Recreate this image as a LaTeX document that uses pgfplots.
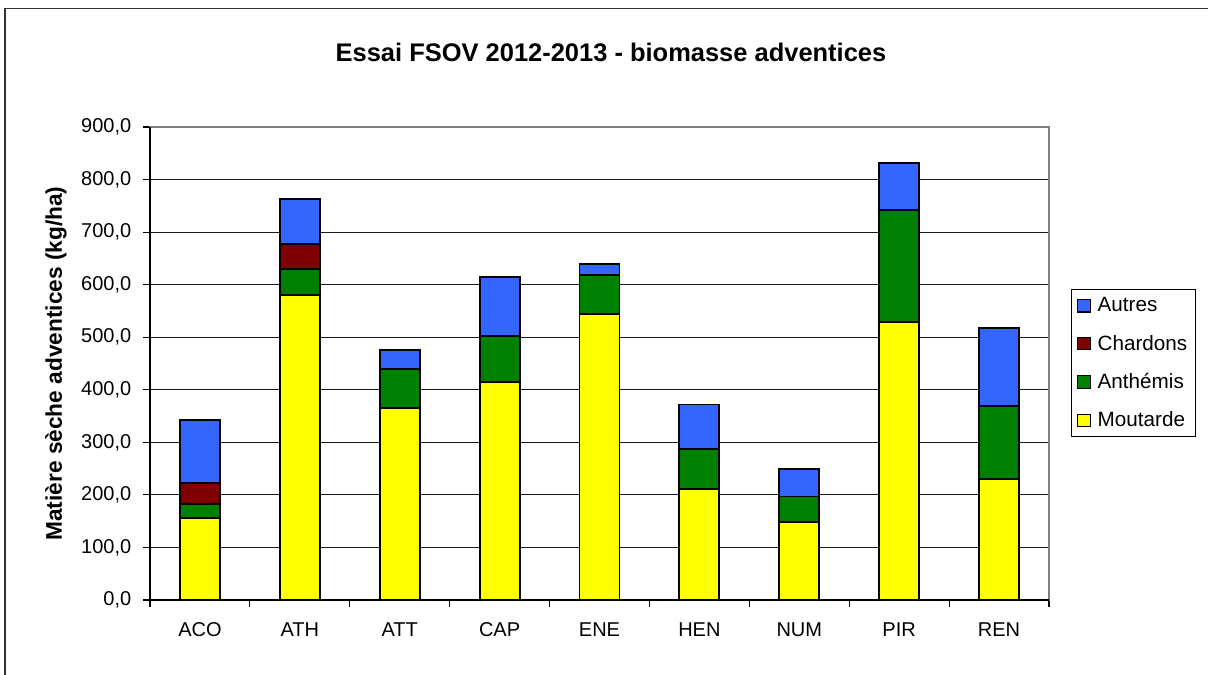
\documentclass[border=0pt]{standalone}
\usepackage{fontspec}
\setmainfont{Liberation Sans}
\usepackage{pgfplots}
\pgfplotsset{compat=1.18}

\definecolor{cMout}{HTML}{FFFF00}
\definecolor{cAnth}{HTML}{008000}
\definecolor{cChar}{HTML}{800000}
\definecolor{cAutr}{HTML}{3366FF}
\definecolor{cBox}{HTML}{808080}

\begin{document}
\begin{tikzpicture}
\useasboundingbox (0,0) rectangle (906pt,506.25pt);
% chart frame (top and left edges)
\draw[black!80, line width=1.2pt] (3.75pt,0) -- (3.75pt,500pt) -- (906pt,500pt);
% title
\node[font=\fontsize{19.1}{22}\selectfont\bfseries] at (458.25pt,466.9pt)
  {Essai FSOV 2012-2013 - biomasse adventices};
% y label
\node[font=\fontsize{17}{20}\selectfont\bfseries, rotate=90] at (42pt,233.6pt)
  {Matière sèche adventices (kg/ha)};

\begin{axis}[
  at={(112.5pt,56.25pt)}, anchor=south west,
  scale only axis,
  width=674.25pt, height=354.75pt,
  ybar stacked,
  bar width=30pt,
  xmin=-0.5, xmax=8.5,
  ymin=0, ymax=900,
  xtick={0,...,8},
  xticklabels={ACO,ATH,ATT,CAP,ENE,HEN,NUM,PIR,REN},
  minor xtick={-0.5,0.5,...,8.5},
  xtick pos=lower, ytick pos=left,
  tick align=outside,
  major tick length=5.25pt,
  minor tick length=5.25pt,
  major x tick style={draw=none},
  minor x tick style={black, line width=0.9pt},
  y tick style={black, line width=0.9pt},
  ytick={0,100,...,900},
  ymajorgrids,
  major grid style={black!90, line width=0.8pt},
  axis line style={cBox, line width=0.9pt},
  ticklabel style={font=\fontsize{15}{18}\selectfont},
  xticklabel style={yshift=-8pt},
  yticklabel style={xshift=-5.25pt, /pgf/number format/.cd, fixed, fixed zerofill, precision=1, use comma, assume math mode=true},
  every axis plot/.append style={draw=black, line width=1.4pt},
  legend style={at={(1.0245,0.6575)}, anchor=north west,
    draw=black, line width=0.8pt,
    font=\fontsize{15.5}{18}\selectfont,
    inner xsep=4pt, inner ysep=4pt,
    row sep=12pt, cells={anchor=west}},
  legend image code/.code={\draw[#1, line width=0.8pt] (0.5pt,-4.75pt) rectangle (10pt,4.75pt); \path (13pt,0pt);},
  reverse legend,
  after end axis/.code={
    \draw[black, line width=1.2pt] (rel axis cs:0,1) -- (rel axis cs:0,0) -- (rel axis cs:1,0);
  },
]
\addplot[fill=cMout] coordinates {(0,156) (1,581) (2,365) (3,414) (4,544) (5,212) (6,149) (7,529) (8,231)};
\addlegendentry{Moutarde}
\addplot[fill=cAnth] coordinates {(0,26) (1,48) (2,74) (3,89) (4,74) (5,75) (6,48) (7,213) (8,138)};
\addlegendentry{Anthémis}
\addplot[fill=cChar] coordinates {(0,41) (1,49) (2,0) (3,0) (4,0) (5,0) (6,0) (7,0) (8,0)};
\addlegendentry{Chardons}
\addplot[fill=cAutr] coordinates {(0,120) (1,85) (2,37) (3,112) (4,22) (5,85) (6,53) (7,89) (8,149)};
\addlegendentry{Autres}
\end{axis}
\end{tikzpicture}
\end{document}
